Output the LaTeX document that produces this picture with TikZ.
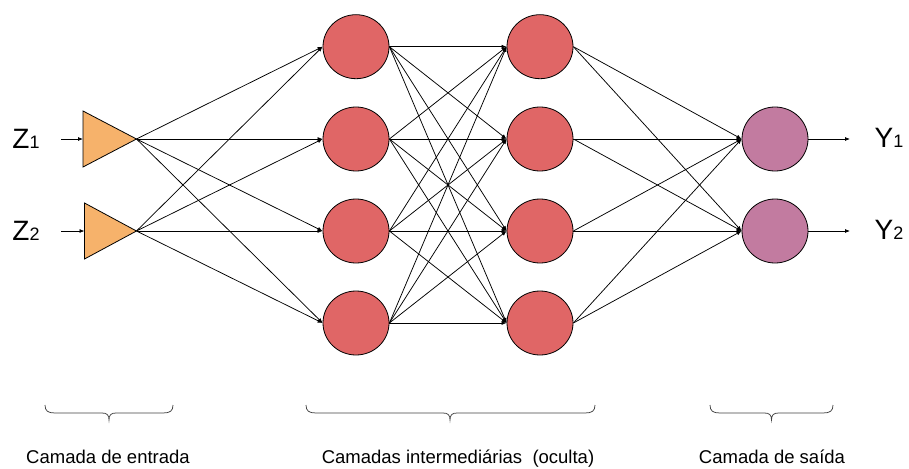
\documentclass[tikz,border=0pt]{standalone}
\usepackage{fontspec}
\setmainfont{Liberation Sans}
\usetikzlibrary{arrows.meta,shapes.geometric}
\definecolor{nred}{HTML}{E06666}
\definecolor{npurple}{HTML}{C27BA0}
\definecolor{norange}{HTML}{F6B26B}
\begin{document}
\begin{tikzpicture}[x=1pt,y=-1pt,
  neuron/.style={draw=black,line width=0.8pt,ellipse,minimum width=66pt,minimum height=64pt,inner sep=0pt},
  hid/.style={neuron,fill=nred},
  outn/.style={neuron,fill=npurple},
  tri/.style={draw=black,line width=0.8pt,fill=norange,line join=miter},
  conn/.style={draw=black,line width=0.75pt,-{Latex[length=5pt,width=4pt]}},
  iolabel/.style={anchor=base,inner sep=0pt,font=\fontsize{28}{30}\selectfont},
  brace/.style={draw=black!75,line width=0.75pt},
  caption/.style={anchor=base,inner sep=0pt,font=\fontsize{18.5}{20}\selectfont}
]
\useasboundingbox (0,0) rectangle (909,468);

% input triangles
\draw[tri] (83,111) -- (136.5,139) -- (83,167) -- cycle;
\draw[tri] (84.5,203) -- (136.5,231) -- (84.5,259) -- cycle;
\coordinate (t1) at (136.5,139);
\coordinate (t2) at (136.5,231);
\coordinate (t1in) at (83,139);
\coordinate (t2in) at (84.5,231);
\coordinate (z1s) at (61,139);
\coordinate (z2s) at (61,231);

% labels
\node[iolabel] (z1) at (26,148) {Z{\fontsize{18}{20}\selectfont 1}};
\node[iolabel] (z2) at (26,240) {Z{\fontsize{18}{20}\selectfont 2}};
\node[iolabel] (y1) at (889,147) {Y{\fontsize{18}{20}\selectfont 1}};
\node[iolabel] (y2) at (889,239) {Y{\fontsize{18}{20}\selectfont 2}};

% hidden layers
\foreach \i/\yy in {1/46.7,2/139,3/231,4/323}{
  \node[hid] (a\i) at (356,\yy) {};
  \node[hid] (b\i) at (540,\yy) {};
}
% output
\node[outn] (o1) at (775,139) {};
\node[outn] (o2) at (775,231) {};
\coordinate (y1e) at (850,139);
\coordinate (y2e) at (850,231);

% connections
\draw[conn] (z1s) -- (t1in);
\draw[conn] (z2s) -- (t2in);
\foreach \i in {1,...,4}{
  \draw[conn] (t1) -- (a\i.west);
  \draw[conn] (t2) -- (a\i.west);
}
\foreach \i in {1,...,4}{
  \foreach \j in {1,...,4}{
    \draw[conn] (a\i.east) -- (b\j.west);
  }
}
\foreach \i in {1,...,4}{
  \draw[conn] (b\i.east) -- (o1.west);
  \draw[conn] (b\i.east) -- (o2.west);
}
\draw[conn] (o1.east) -- (y1e);
\draw[conn] (o2.east) -- (y2e);

% braces
\foreach \xa/\xm/\xb in {45/109/173, 306/450/595, 710/771.5/833}{
  \draw[brace] (\xa,405) .. controls (\xa,411) and (\xa+3,413) .. (\xa+10,413)
    -- (\xm-7,413) .. controls (\xm-2,413) and (\xm,415) .. (\xm,420)
    .. controls (\xm,415) and (\xm+2,413) .. (\xm+7,413)
    -- (\xb-10,413) .. controls (\xb-3,413) and (\xb,411) .. (\xb,405);
}

% captions
\node[caption] (c1) at (108,463.5) {Camada de entrada};
\node[caption] (c2) at (458,463.5) {Camadas intermediárias\ \ (oculta)};
\node[caption] (c3) at (772,463.5) {Camada de saída};
\end{tikzpicture}
\end{document}
